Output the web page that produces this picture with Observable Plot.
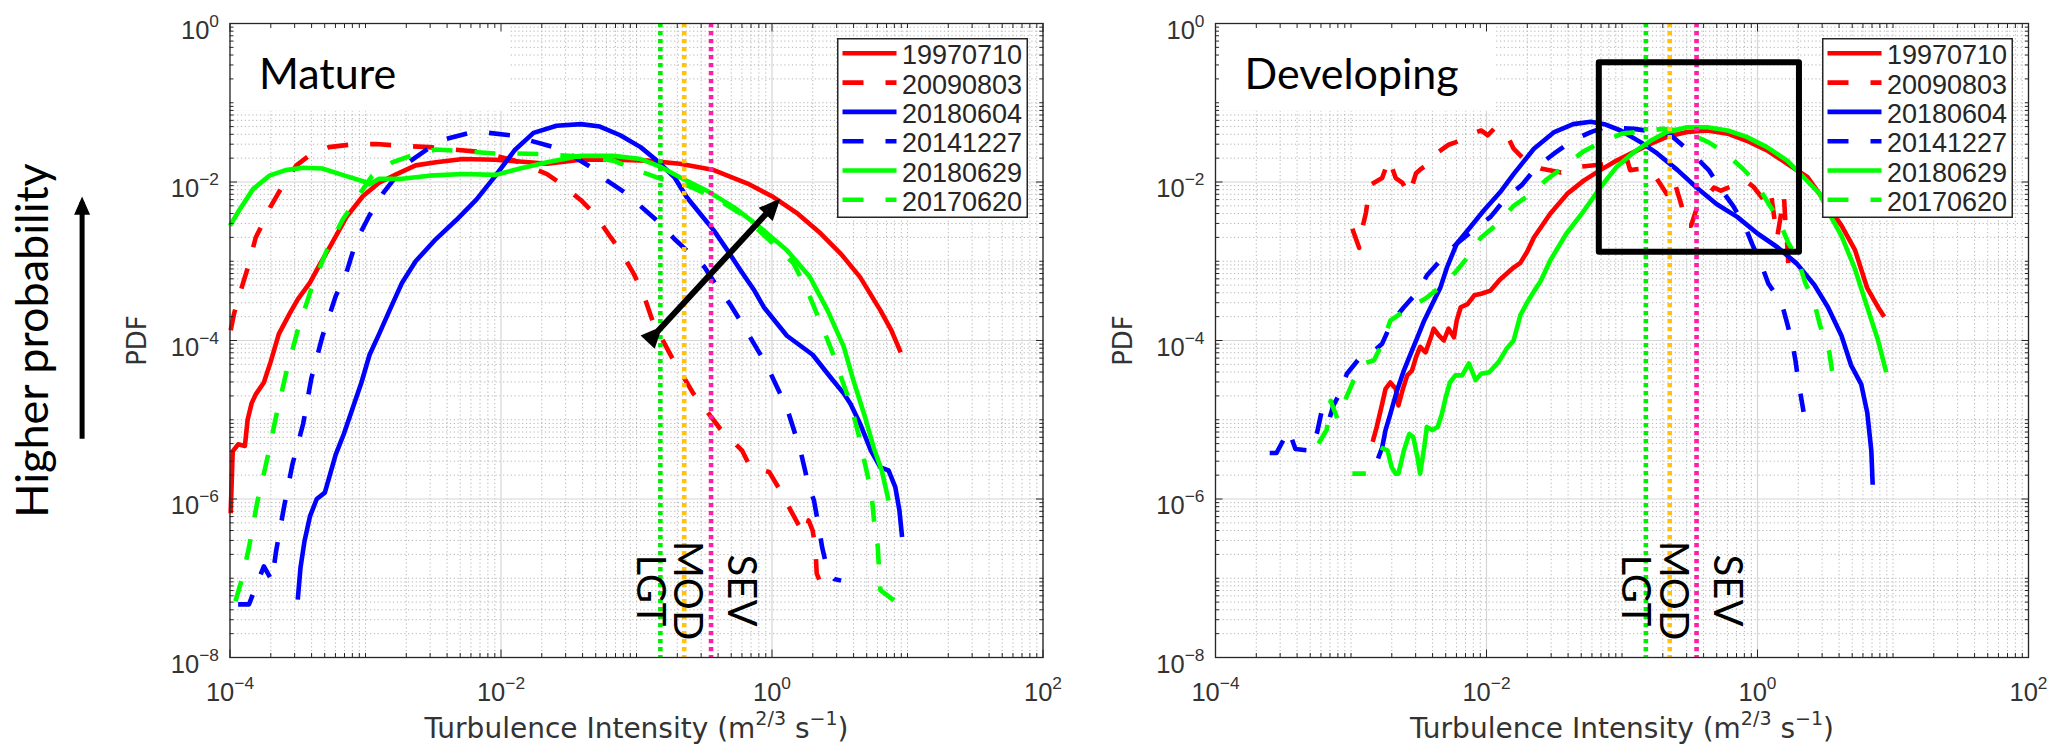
<!DOCTYPE html>
<html>
<head>
<meta charset="utf-8">
<script src="https://cdn.jsdelivr.net/npm/d3@7"></script>
<script src="https://cdn.jsdelivr.net/npm/@observablehq/plot@0.6"></script>
<style>
  html, body { margin: 0; padding: 0; background: #fff; }
  #fig { position: relative; width: 2056px; height: 751px; overflow: hidden; background: #fff; }
  #fig > svg { position: absolute; top: 0; }
</style>
</head>
<body>
<div id="fig"></div>
<script>
// ---------------- DATA (pairs are [log10 x, log10 y]) ----------------
const seriesNames = ["19970710", "20090803", "20180604", "20141227", "20180629", "20170620"];

// Mature panel
const mature19970710 = [[-3.995,-6.18],[-3.98,-5.40],[-3.94,-5.31],[-3.89,-5.33],[-3.87,-5.00],[-3.84,-4.79],[-3.81,-4.68],[-3.75,-4.53],[-3.70,-4.27],[-3.64,-3.92],[-3.56,-3.66],[-3.50,-3.48],[-3.41,-3.27],[-3.34,-3.05],[-3.24,-2.75],[-3.14,-2.44],[-3.02,-2.18],[-2.90,-2.01],[-2.77,-1.90],[-2.63,-1.79],[-2.48,-1.75],[-2.28,-1.71],[-2.04,-1.72],[-1.79,-1.75],[-1.66,-1.77],[-1.41,-1.72],[-1.17,-1.72],[-0.92,-1.73],[-0.68,-1.77],[-0.43,-1.85],[-0.18,-2.02],[0.01,-2.19],[0.19,-2.40],[0.36,-2.65],[0.51,-2.91],[0.65,-3.20],[0.80,-3.62],[0.88,-3.87],[0.95,-4.15]];
const mature20090803 = [[-3.995,-3.87],[-3.97,-3.66],[-3.91,-3.31],[-3.87,-3.09],[-3.81,-2.70],[-3.76,-2.53],[-3.70,-2.31],[-3.62,-2.07],[-3.51,-1.79],[-3.41,-1.66],[-3.27,-1.56],[-3.12,-1.53],[-2.92,-1.52],[-2.77,-1.54],[-2.53,-1.56],[-2.16,-1.62],[-1.90,-1.73],[-1.66,-1.90],[-1.56,-2.02],[-1.41,-2.23],[-1.31,-2.40],[-1.19,-2.70],[-1.12,-2.86],[-1.02,-3.16],[-0.95,-3.41],[-0.88,-3.76],[-0.74,-4.21],[-0.58,-4.67],[-0.38,-5.12],[-0.22,-5.39],[-0.16,-5.60],[-0.02,-5.66],[0.06,-5.89],[0.14,-6.15],[0.21,-6.37],[0.25,-6.44],[0.27,-6.27],[0.30,-6.40],[0.32,-6.61],[0.33,-6.94],[0.36,-7.07],[0.40,-7.07]];
const mature20180604 = [[-3.50,-7.27],[-3.48,-6.87],[-3.45,-6.53],[-3.41,-6.22],[-3.36,-6.00],[-3.30,-5.92],[-3.27,-5.74],[-3.22,-5.44],[-3.16,-5.18],[-3.09,-4.83],[-3.03,-4.53],[-2.97,-4.18],[-2.90,-3.92],[-2.82,-3.61],[-2.73,-3.27],[-2.63,-3.00],[-2.48,-2.72],[-2.33,-2.48],[-2.18,-2.22],[-2.04,-1.92],[-1.90,-1.60],[-1.76,-1.38],[-1.59,-1.29],[-1.41,-1.27],[-1.27,-1.30],[-1.12,-1.41],[-0.97,-1.56],[-0.85,-1.73],[-0.72,-1.94],[-0.63,-2.19],[-0.53,-2.40],[-0.43,-2.61],[-0.33,-2.86],[-0.23,-3.12],[-0.13,-3.37],[-0.06,-3.58],[0.11,-3.94],[0.30,-4.18],[0.43,-4.46],[0.53,-4.67],[0.58,-4.80],[0.65,-5.05],[0.73,-5.39],[0.80,-5.60],[0.86,-5.64],[0.91,-5.85],[0.94,-6.14],[0.96,-6.48]];
const mature20141227 = [[-3.94,-7.33],[-3.86,-7.33],[-3.75,-6.85],[-3.69,-7.03],[-3.66,-6.66],[-3.60,-6.09],[-3.54,-5.57],[-3.46,-5.05],[-3.40,-4.48],[-3.32,-3.96],[-3.22,-3.44],[-3.14,-3.14],[-3.07,-2.75],[-2.97,-2.42],[-2.87,-2.14],[-2.77,-1.92],[-2.68,-1.75],[-2.53,-1.57],[-2.41,-1.46],[-2.23,-1.38],[-2.09,-1.38],[-1.93,-1.41],[-1.78,-1.48],[-1.61,-1.56],[-1.49,-1.65],[-1.34,-1.81],[-1.22,-1.98],[-1.07,-2.15],[-0.96,-2.32],[-0.82,-2.53],[-0.72,-2.72],[-0.60,-2.91],[-0.50,-3.07],[-0.40,-3.33],[-0.31,-3.54],[-0.23,-3.76],[-0.04,-4.31],[0.11,-4.85],[0.21,-5.39],[0.27,-5.83],[0.31,-6.02],[0.35,-6.40],[0.37,-6.61],[0.41,-6.90],[0.46,-7.01],[0.51,-7.03]];
const mature20180629 = [[-4.00,-2.55],[-3.93,-2.35],[-3.83,-2.09],[-3.71,-1.92],[-3.59,-1.85],[-3.46,-1.82],[-3.32,-1.83],[-3.17,-1.91],[-3.02,-1.99],[-2.97,-2.03],[-2.90,-1.96],[-2.73,-1.96],[-2.53,-1.92],[-2.28,-1.90],[-2.04,-1.91],[-1.86,-1.83],[-1.66,-1.75],[-1.41,-1.67],[-1.17,-1.67],[-0.97,-1.71],[-0.82,-1.81],[-0.68,-1.94],[-0.48,-2.11],[-0.28,-2.32],[-0.09,-2.57],[0.11,-2.86],[0.28,-3.20],[0.41,-3.62],[0.53,-4.08],[0.60,-4.50],[0.68,-4.93],[0.75,-5.35],[0.81,-5.64],[0.86,-6.02]];
const mature20170620 = [[-3.96,-7.29],[-3.91,-7.00],[-3.86,-6.61],[-3.80,-6.05],[-3.73,-5.53],[-3.66,-4.96],[-3.59,-4.44],[-3.50,-3.87],[-3.40,-3.35],[-3.29,-2.88],[-3.17,-2.48],[-3.07,-2.22],[-2.95,-1.92],[-2.80,-1.75],[-2.65,-1.66],[-2.48,-1.59],[-2.28,-1.61],[-2.04,-1.64],[-1.90,-1.64],[-1.66,-1.65],[-1.41,-1.68],[-1.17,-1.73],[-1.00,-1.85],[-0.82,-1.96],[-0.72,-1.98],[-0.63,-2.04],[-0.43,-2.19],[-0.23,-2.40],[-0.04,-2.70],[0.16,-3.03],[0.26,-3.37],[0.36,-3.78],[0.46,-4.21],[0.50,-4.42],[0.58,-4.80],[0.65,-5.26],[0.68,-5.51],[0.72,-5.81],[0.74,-6.04],[0.76,-6.40],[0.78,-6.59],[0.79,-6.90],[0.80,-7.15],[0.90,-7.28]];

// Developing panel (null = empty bin, gap in the line)
const dev19970710 = [[-2.84,-5.28],[-2.81,-5.09],[-2.77,-4.80],[-2.745,-4.61],[-2.71,-4.53],[-2.67,-4.61],[-2.65,-4.82],[-2.62,-4.63],[-2.585,-4.44],[-2.55,-4.38],[-2.52,-4.21],[-2.49,-4.08],[-2.45,-4.15],[-2.41,-3.96],[-2.39,-3.85],[-2.35,-3.94],[-2.315,-4.00],[-2.28,-3.85],[-2.24,-3.96],[-2.22,-3.75],[-2.19,-3.58],[-2.14,-3.54],[-2.09,-3.43],[-2.04,-3.41],[-1.97,-3.37],[-1.90,-3.23],[-1.80,-3.08],[-1.75,-3.02],[-1.70,-2.88],[-1.65,-2.70],[-1.53,-2.40],[-1.405,-2.15],[-1.28,-1.98],[-1.16,-1.85],[-1.04,-1.73],[-0.91,-1.62],[-0.79,-1.52],[-0.67,-1.43],[-0.52,-1.37],[-0.37,-1.35],[-0.22,-1.39],[-0.08,-1.48],[0.07,-1.60],[0.22,-1.77],[0.37,-1.94],[0.475,-2.19],[0.62,-2.55],[0.72,-2.86],[0.81,-3.34],[0.89,-3.58],[0.935,-3.70]];
const dev20090803 = [[-2.99,-2.59],[-2.94,-2.83],[-2.92,-2.61],[-2.89,-2.39],[-2.86,-2.04],[-2.77,-1.95],[-2.72,-1.71],[-2.67,-1.95],[-2.62,-2.01],[-2.57,-2.16],[-2.52,-1.89],[-2.48,-1.83],[-2.43,-1.77],[-2.38,-1.65],[-2.28,-1.53],[-2.23,-1.50],[-2.19,-1.47],[-2.14,-1.41],[-2.04,-1.35],[-1.99,-1.41],[-1.94,-1.32],[-1.90,-1.38],[-1.85,-1.40],[-1.80,-1.58],[-1.73,-1.70],[-1.66,-1.79],[-1.60,-1.83],[-1.45,-1.88],[-1.32,-1.81],[-1.15,-1.78],[-0.96,-1.73],[-0.94,-1.85],[-0.85,-1.83],[-0.75,-1.94],[-0.67,-2.15],[-0.62,-1.96],[-0.56,-2.30],[-0.53,-2.55],[-0.49,-2.55],[-0.45,-2.34],[-0.32,-2.07],[-0.27,-2.11],[-0.09,-1.98],[-0.03,-2.06],[0.07,-2.28],[0.10,-2.15],[0.13,-2.53],[0.145,-2.70],[0.18,-2.34],[0.195,-2.17],[0.207,-2.55],[0.219,-2.78],[0.231,-3.12]];
const dev20180604 = [[-2.80,-5.49],[-2.77,-5.35],[-2.745,-5.13],[-2.71,-4.93],[-2.66,-4.63],[-2.61,-4.38],[-2.56,-4.17],[-2.51,-3.96],[-2.46,-3.75],[-2.40,-3.54],[-2.34,-3.33],[-2.29,-3.07],[-2.22,-2.78],[-2.12,-2.57],[-2.02,-2.36],[-1.90,-2.13],[-1.80,-1.90],[-1.65,-1.58],[-1.50,-1.37],[-1.36,-1.27],[-1.23,-1.24],[-1.13,-1.27],[-1.01,-1.35],[-0.86,-1.50],[-0.74,-1.64],[-0.59,-1.85],[-0.45,-2.07],[-0.30,-2.28],[-0.15,-2.44],[0.00,-2.65],[0.145,-2.82],[0.29,-3.03],[0.42,-3.30],[0.52,-3.58],[0.62,-3.94],[0.69,-4.31],[0.765,-4.55],[0.81,-4.91],[0.84,-5.39],[0.85,-5.82]];
const dev20141227 = [[-3.60,-5.42],[-3.55,-5.42],[-3.46,-5.13],[-3.41,-5.37],[-3.30,-5.39],[-3.25,-5.16],[-3.21,-4.84],[-3.16,-4.99],[-3.13,-4.82],[-3.09,-4.69],[-3.03,-4.42],[-2.94,-4.23],[-2.87,-4.19],[-2.77,-4.04],[-2.70,-3.77],[-2.61,-3.58],[-2.50,-3.37],[-2.44,-3.18],[-2.32,-2.95],[-2.22,-2.78],[-2.07,-2.57],[-1.97,-2.44],[-1.85,-2.19],[-1.74,-2.04],[-1.63,-1.81],[-1.50,-1.64],[-1.37,-1.48],[-1.23,-1.37],[-1.13,-1.31],[-0.91,-1.33],[-0.74,-1.37],[-0.64,-1.41],[-0.47,-1.66],[-0.36,-1.85],[-0.27,-2.09],[-0.18,-2.30],[-0.09,-2.57],[-0.04,-2.78],[0.03,-3.05],[0.08,-3.28],[0.18,-3.54],[0.22,-3.79],[0.26,-4.06],[0.28,-4.25],[0.30,-4.50],[0.34,-4.90]];
const dev20180629 = [[-2.99,-5.68],[-2.89,-5.68],[-2.84,null],[-2.78,-5.35],[-2.73,-5.39],[-2.70,-5.60],[-2.67,-5.68],[-2.65,-5.68],[-2.61,-5.39],[-2.57,-5.18],[-2.54,-5.22],[-2.51,-5.47],[-2.49,-5.68],[-2.46,-5.35],[-2.44,-5.09],[-2.40,-5.13],[-2.36,-5.09],[-2.33,-4.93],[-2.30,-4.71],[-2.27,-4.53],[-2.23,-4.44],[-2.18,-4.44],[-2.13,-4.29],[-2.08,-4.50],[-2.04,-4.42],[-1.98,-4.40],[-1.91,-4.27],[-1.85,-4.10],[-1.80,-4.00],[-1.75,-3.68],[-1.70,-3.52],[-1.65,-3.38],[-1.60,-3.25],[-1.53,-2.99],[-1.41,-2.65],[-1.28,-2.36],[-1.16,-2.07],[-1.04,-1.81],[-0.91,-1.62],[-0.79,-1.48],[-0.67,-1.37],[-0.52,-1.31],[-0.37,-1.31],[-0.22,-1.35],[-0.08,-1.43],[0.07,-1.56],[0.22,-1.73],[0.34,-1.94],[0.46,-2.15],[0.52,-2.37],[0.62,-2.68],[0.72,-3.10],[0.81,-3.58],[0.89,-4.00],[0.95,-4.40]];
const dev20170620 = [[-3.24,-5.30],[-3.18,-5.13],[-3.15,-4.76],[-3.10,-4.99],[-3.05,-4.78],[-2.98,-4.50],[-2.905,-4.29],[-2.83,-4.25],[-2.77,-4.04],[-2.71,-3.75],[-2.60,-3.62],[-2.45,-3.47],[-2.33,-3.31],[-2.23,-3.14],[-2.14,-2.95],[-2.04,-2.70],[-1.92,-2.53],[-1.80,-2.30],[-1.675,-2.15],[-1.55,-1.96],[-1.43,-1.81],[-1.29,-1.62],[-1.18,-1.52],[-1.00,-1.39],[-0.85,-1.36],[-0.70,-1.33],[-0.57,-1.35],[-0.45,-1.43],[-0.36,-1.50],[-0.25,-1.62],[-0.11,-1.83],[-0.015,-2.00],[0.084,-2.28],[0.145,-2.44],[0.231,-2.78],[0.293,-2.95],[0.354,-3.28],[0.416,-3.50],[0.46,-3.80],[0.53,-4.15],[0.565,-4.55]];

// Turbulence thresholds (vertical dotted lines)
const thresholdLabels = ["LGT", "MOD", "SEV"];
const thresholdValues = [0.15, 0.225, 0.355];
const thresholdLabelY = 7e-8;

// Axis ticks
const xMajorTicks = [1e-4, 1e-2, 1, 1e2];
const yMajorTicks = [1e-8, 1e-6, 1e-4, 1e-2, 1];
const panelTitles = ["Mature", "Developing"];
const xAxisLabel = "Turbulence Intensity (m^{2/3} s^{\u22121})";
const yAxisLabel = "PDF";
const sideLabel = "Higher probability";

// Annotations (data coordinates)
const matureArrow = {x1: 0.144, y1: 1.32e-4, x2: 1.07, y2: 5.4e-3};
const developingBox = {x1: 0.068, x2: 2.04, y1: 1.3e-3, y2: 0.32};
const titleBox = {x1: 1e-4, x2: 0.0115, y1: 0.078, y2: 1};
const probabilityArrow = {x1: 8.1e-6, x2: 8.1e-6, y1: 5.75e-6, y2: 5.6e-3};

// ---------------- STYLE ----------------
const seriesColors = ["#ff0000", "#ff0000", "#0000ff", "#0000ff", "#00ff00", "#00ff00"];
const seriesDashed = [false, true, false, true, false, true];
const thresholdColors = ["#00ee00", "#ffc20e", "#ff1fa5"];
const thresholdLabelDx = [-11, 3, 30];
const DASH = "21,22";
const TEXT = "#333333";
const AX = "#262626";
const noText = () => "";

function minorTicks(e0, e1, majors) {
  const out = [];
  for (let e = e0; e < e1; e++) for (let k = 1; k <= 9; k++) {
    const v = k * Math.pow(10, e);
    if (!(k === 1 && majors.some(m => Math.abs(Math.log10(m) - e) < 1e-9))) out.push(v);
  }
  return out;
}
const xMinorTicks = minorTicks(-4, 2, xMajorTicks);
const yMinorTicks = minorTicks(-8, 0, yMajorTicks);

const fmtPow = d => {
  const e = Math.round(Math.log10(d));
  return `10^{${e < 0 ? "\u2212" + (-e) : e}}`;
};

function toRows(list) {
  return list.map(pts => pts.map(([lx, ly]) => ({x: Math.pow(10, lx), y: ly == null ? NaN : Math.pow(10, ly)})));
}

function makePanel({series, title, width, marginLeft, marginRight, mature}) {
  const rows = toRows(series);
  const marks = [
    Plot.gridX(xMinorTicks, {stroke: "#b4b4b4", strokeOpacity: 1, strokeWidth: 1, strokeDasharray: "1.2,2.6"}),
    Plot.gridY(yMinorTicks, {stroke: "#b4b4b4", strokeOpacity: 1, strokeWidth: 1, strokeDasharray: "1.2,2.6"}),
    Plot.gridX(xMajorTicks, {stroke: "#d6d6d6", strokeOpacity: 1, strokeWidth: 1.2}),
    Plot.gridY(yMajorTicks, {stroke: "#d6d6d6", strokeOpacity: 1, strokeWidth: 1.2}),
    Plot.rect([titleBox], {x1: "x1", x2: "x2", y1: "y1", y2: "y2", fill: "white"})
  ];
  rows.forEach((r, i) => {
    marks.push(Plot.line(r, {x: "x", y: "y", stroke: seriesColors[i], strokeWidth: 4.6,
      strokeDasharray: seriesDashed[i] ? DASH : null, strokeLinejoin: "round", strokeLinecap: "butt"}));
  });
  thresholdValues.forEach((v, i) => {
    marks.push(Plot.ruleX([v], {stroke: thresholdColors[i], strokeWidth: 4.6, strokeDasharray: "4.3,3.7"}));
    marks.push(Plot.text([{x: v, y: thresholdLabelY, t: thresholdLabels[i]}],
      {x: "x", y: "y", text: "t", rotate: 90, dx: thresholdLabelDx[i], textAnchor: "middle",
       fontSize: 40, fontFamily: "Lato", fill: "black"}));
  });
  if (mature) {
    marks.push(Plot.link([matureArrow], {x1: "x1", y1: "y1", x2: "x2", y2: "y2", stroke: "black", strokeWidth: 6,
      markerStart: "arrow", markerEnd: "arrow"}));
    marks.push(Plot.link([probabilityArrow], {x1: "x1", y1: "y1", x2: "x2", y2: "y2", stroke: "black", strokeWidth: 5,
      markerEnd: "arrow"}));
    marks.push(Plot.text([sideLabel], {text: d => d, frameAnchor: "left", textAnchor: "middle", dx: -196, rotate: -90,
      fontSize: 45, fontFamily: "Lato", fill: "black"}));
  } else {
    marks.push(Plot.rect([developingBox], {x1: "x1", x2: "x2", y1: "y1", y2: "y2", fill: "none", stroke: "black",
      strokeWidth: 6, strokeLinejoin: "round"}));
  }
  marks.push(
    Plot.text([title], {text: d => d, frameAnchor: "top-left", dx: 29, dy: 35, lineAnchor: "top", textAnchor: "start",
      fontSize: 43, fontFamily: "Lato", fill: "black"}),
    // tick marks, inward on all four sides
    Plot.axisX(xMajorTicks, {anchor: "bottom", tickSize: -7.5, tickFormat: noText, label: null, stroke: AX}),
    Plot.axisX(xMajorTicks, {anchor: "top", tickSize: -7.5, tickFormat: noText, label: null, stroke: AX}),
    Plot.axisX(xMinorTicks, {anchor: "bottom", tickSize: -4, tickFormat: noText, label: null, stroke: AX}),
    Plot.axisX(xMinorTicks, {anchor: "top", tickSize: -4, tickFormat: noText, label: null, stroke: AX}),
    Plot.axisY(yMajorTicks, {anchor: "left", tickSize: -7.5, tickFormat: noText, label: null, stroke: AX}),
    Plot.axisY(yMajorTicks, {anchor: "right", tickSize: -7.5, tickFormat: noText, label: null, stroke: AX}),
    Plot.axisY(yMinorTicks, {anchor: "left", tickSize: -4, tickFormat: noText, label: null, stroke: AX}),
    Plot.axisY(yMinorTicks, {anchor: "right", tickSize: -4, tickFormat: noText, label: null, stroke: AX}),
    // tick labels
    Plot.axisX(xMajorTicks, {anchor: "bottom", tickSize: 0, tickPadding: 25, tickFormat: fmtPow, label: null,
      fontSize: 25.5, fontFamily: "Liberation Sans", fill: TEXT}),
    Plot.axisY(yMajorTicks, {anchor: "left", tickSize: 0, tickPadding: 11, dy: 7, tickFormat: fmtPow, label: null,
      fontSize: 25.5, fontFamily: "Liberation Sans", fill: TEXT}),
    Plot.text([xAxisLabel], {text: d => d, frameAnchor: "bottom", textAnchor: "middle", dy: 80, fontSize: 28,
      fontFamily: "DejaVu Sans", fill: TEXT}),
    Plot.text([yAxisLabel], {text: d => d, frameAnchor: "left", textAnchor: "middle", dx: -92, rotate: -90,
      fontSize: 26, fontFamily: "DejaVu Sans", fill: TEXT}),
    Plot.frame({stroke: AX, strokeWidth: 1.3})
  );
  return Plot.plot({
    width, height: 751,
    marginLeft, marginRight, marginTop: 23, marginBottom: 94,
    x: {type: "log", domain: [1e-4, 1e2]},
    y: {type: "log", domain: [1e-8, 1]},
    style: {fontFamily: "Liberation Sans, Arial, sans-serif", background: "transparent", overflow: "visible"},
    marks
  });
}

function supify(svg) {
  const NS = "http://www.w3.org/2000/svg";
  svg.querySelectorAll("text").forEach(t => {
    const s = t.textContent;
    if (!s.includes("^{")) return;
    const fs = parseFloat(getComputedStyle(t).fontSize) || 25;
    const supFs = fs * 0.68, raise = fs * 0.46;
    const segs = [];
    const re = /\^\{([^}]*)\}/g;
    let last = 0, m;
    while ((m = re.exec(s))) {
      if (m.index > last) segs.push([s.slice(last, m.index), false]);
      segs.push([m[1], true]);
      last = re.lastIndex;
    }
    if (last < s.length) segs.push([s.slice(last), false]);
    while (t.firstChild) t.removeChild(t.firstChild);
    t.style.whiteSpace = "pre";
    let raised = false;
    for (const [str, sup] of segs) {
      const ts = document.createElementNS(NS, "tspan");
      if (sup && !raised) { ts.setAttribute("dy", -raise); raised = true; }
      else if (!sup && raised) { ts.setAttribute("dy", raise); raised = false; }
      if (sup) ts.setAttribute("font-size", supFs);
      ts.textContent = str;
      t.appendChild(ts);
    }
  });
}

function fillMarkers(svg) {
  svg.querySelectorAll("marker").forEach(mk => {
    const c = mk.getAttribute("stroke") || "black";
    mk.setAttribute("fill", c);
    mk.setAttribute("stroke", "none");
    mk.setAttribute("viewBox", "-5 -5 10 10");
    const p = mk.querySelector("path");
    if (p) p.setAttribute("d", "M-3.8,-2.4L1.6,0L-3.8,2.4Z");
  });
}

function makeLegend(left, top) {
  const NS = "http://www.w3.org/2000/svg";
  const w = 191, h = 180;
  const svg = document.createElementNS(NS, "svg");
  svg.setAttribute("width", w); svg.setAttribute("height", h);
  svg.style.left = left + "px"; svg.style.top = top + "px";
  const rect = document.createElementNS(NS, "rect");
  rect.setAttribute("x", 0.75); rect.setAttribute("y", 0.75);
  rect.setAttribute("width", w - 1.5); rect.setAttribute("height", h - 1.5);
  rect.setAttribute("fill", "white"); rect.setAttribute("stroke", AX); rect.setAttribute("stroke-width", 1.5);
  svg.appendChild(rect);
  seriesNames.forEach((name, i) => {
    const cy = 15.3 + i * 29.3;
    const ln = document.createElementNS(NS, "line");
    ln.setAttribute("x1", 5.5); ln.setAttribute("x2", 59.5);
    ln.setAttribute("y1", cy); ln.setAttribute("y2", cy);
    ln.setAttribute("stroke", seriesColors[i]); ln.setAttribute("stroke-width", 4.6);
    if (seriesDashed[i]) ln.setAttribute("stroke-dasharray", DASH);
    svg.appendChild(ln);
    const tx = document.createElementNS(NS, "text");
    tx.setAttribute("x", 65);
    tx.setAttribute("y", cy + 11);
    tx.setAttribute("font-size", 27);
    tx.setAttribute("font-family", "Liberation Sans, Arial, sans-serif");
    tx.setAttribute("fill", AX);
    tx.textContent = name;
    svg.appendChild(tx);
  });
  return svg;
}

const fig = document.getElementById("fig");
const p1 = makePanel({
  series: [mature19970710, mature20090803, mature20180604, mature20141227, mature20180629, mature20170620],
  title: panelTitles[0], width: 1060, marginLeft: 229.5, marginRight: 17.5, mature: true
});
p1.style.left = "0px";
fig.appendChild(p1);
const p2 = makePanel({
  series: [dev19970710, dev20090803, dev20180604, dev20141227, dev20180629, dev20170620],
  title: panelTitles[1], width: 996, marginLeft: 155, marginRight: 28, mature: false
});
p2.style.left = "1060px";
fig.appendChild(p2);
[p1, p2].forEach(s => { supify(s); fillMarkers(s); });
fig.appendChild(makeLegend(837, 38));
fig.appendChild(makeLegend(1822, 38));
</script>
</body>
</html>
